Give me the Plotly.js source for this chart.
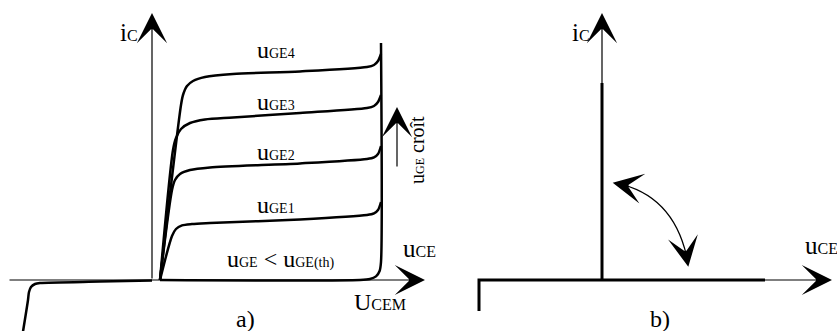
<!DOCTYPE html>
<html>
<head>
<meta charset="utf-8">
<script src="https://cdn.plot.ly/plotly-3.0.1.min.js"></script>
<style>html,body{margin:0;padding:0;background:#fff;}#chart{width:837px;height:331px;}</style>
</head>
<body>
<div id="chart"></div>
<script>
// ---- Panel a) : IGBT output characteristics (schematic units) ----
const uge4X = [0.4, 1.45, 1.55, 1.75, 2.05, 2.65, 4.05, 7.4, 10.75, 11.1, 11.3, 11.45];
const uge4Y = [0, 8.75, 9.25, 9.7, 9.95, 10.15, 10.3, 10.43, 10.65, 10.75, 10.95, 11.3];
const uge3X = [0.4, 1.05, 1.2, 1.45, 1.9, 2.65, 4.05, 7.4, 10.75, 11.1, 11.3, 11.45];
const uge3Y = [0, 6.5, 7.1, 7.55, 7.85, 8.03, 8.13, 8.35, 8.6, 8.7, 8.9, 9.25];
const uge2X = [0.4, 1.0, 1.15, 1.4, 1.9, 2.9, 7.4, 10.75, 11.1, 11.3, 11.45];
const uge2Y = [0, 4.5, 5.0, 5.3, 5.5, 5.63, 5.83, 6.05, 6.13, 6.3, 6.7];
const uge1X = [0.4, 1.0, 1.2, 1.5, 2.0, 2.9, 7.4, 10.75, 11.1, 11.3, 11.45];
const uge1Y = [0, 2.2, 2.55, 2.73, 2.8, 2.85, 3.03, 3.25, 3.33, 3.5, 3.9];
const offX = [0.4, 10.4, 10.9, 11.2, 11.38, 11.45, 11.45];
const offY = [0, 0, 0.05, 0.18, 0.45, 0.9, 11.85];
const revX = [0, -2.6, -5.6, -5.85, -6.05, -6.15, -6.2, -6.47];
const revY = [-0.03, -0.08, -0.15, -0.2, -0.35, -0.6, -1.0, -2.7];

// ---- Panel b) : ideal switch ----
const swX = [-6.15, -6.15, 8.15, null, 0, 0];
const swY = [-1.55, 0, 0, null, 0, 9.85];

// ---- Labels ----
const curveLabels = ['GE4', 'GE3', 'GE2', 'GE1'];
const curveLabelY = [11.5, 8.9, 6.4, 3.75];

const SERIF = '"Liberation Serif", "Times New Roman", Times, serif';
const black = '#000';

function line(x, y, xa, w, shape) {
  return {x: x, y: y, xaxis: xa, yaxis: 'y', type: 'scatter', mode: 'lines',
          line: {color: black, width: w, shape: shape || 'spline', smoothing: 0.8},
          hoverinfo: 'skip', connectgaps: false};
}

const traces = [
  line(uge4X, uge4Y, 'x', 2.5),
  line(uge3X, uge3Y, 'x', 2.5),
  line(uge2X, uge2Y, 'x', 2.5),
  line(uge1X, uge1Y, 'x', 2.5),
  line(offX, offY, 'x', 2.5),
  line(revX, revY, 'x', 2.5),
  line(swX, swY, 'x2', 3, 'linear')
];

const HEAD = {arrowhead: 3, arrowsize: 4.2, arrowwidth: 1.2, arrowcolor: black};
function arrow(xref, x, y, ax, ay) {
  return Object.assign({xref: xref, yref: 'y', x: x, y: y, ax: ax, ay: ay,
    axref: xref, ayref: 'y', text: '', showarrow: true}, HEAD);
}
function label(xref, x, y, html, size, extra) {
  return Object.assign({xref: xref, yref: 'y', x: x, y: y, text: html, showarrow: false,
    xanchor: 'center', yanchor: 'middle', font: {family: SERIF, size: size, color: black}}, extra || {});
}
function sub(s, size) { return '<span style="font-size:' + size + 'px">' + s + '</span>'; }

const annotations = [
  // panel a axes
  arrow('x', 13.65, 0, -7.2, 0),
  arrow('x', 0, 13.35, 0, 0),
  // panel b axes
  arrow('x2', 11.5, 0, 8.0, 0),
  arrow('x2', 0, 13.35, 0, 9.0),
  // uGE croît arrow
  arrow('x', 12.25, 8.65, 12.25, 5.6),
  // curved double arrow heads (pixel offsets along tangent)
  Object.assign({xref: 'x2', yref: 'y', x: 0.535, y: 4.865, ax: 15, ay: 3, text: '', showarrow: true}, HEAD),
  Object.assign({xref: 'x2', yref: 'y', x: 4.315, y: 0.665, ax: -2.7, ay: -15, text: '', showarrow: true}, HEAD),
  // labels panel a
  label('x', -1.15, 12.4, 'i' + sub('C', 16), 25),
  label('x', 6.4, 1.05, 'u' + sub('GE', 14) + ' &lt; u' + sub('GE(th)', 14), 24),
  label('x', 11.4, -1.1, 'U' + sub('CEM', 16), 24),
  label('x', 13.35, 1.6, 'u' + sub('CE', 16), 25),
  label('x', 4.65, -1.95, 'a)', 24),
  label('x', 13.25, 6.5, 'u' + sub('GE', 12) + ' croît', 20, {textangle: -90}),
  // labels panel b
  label('x2', -1.05, 12.4, 'i' + sub('C', 16), 25),
  label('x2', 10.95, 1.75, 'u' + sub('CE', 16), 25),
  label('x2', 2.9, -1.95, 'b)', 24)
];
curveLabels.forEach(function (s, i) {
  annotations.push(label('x', 6.2, curveLabelY[i], 'u' + sub(s, 14), 24));
});

const hidden = {visible: false, showgrid: false, zeroline: false, fixedrange: true};
const layout = {
  width: 837, height: 331,
  margin: {l: 0, r: 0, t: 0, b: 0},
  paper_bgcolor: '#fff', plot_bgcolor: 'rgba(0,0,0,0)',
  font: {family: SERIF, color: black},
  showlegend: false, hovermode: false,
  xaxis: Object.assign({domain: [0, 437 / 837], range: [-7.6, 14.25], anchor: 'y'}, hidden),
  xaxis2: Object.assign({domain: [420 / 837, 1], range: [-9.1, 11.75], anchor: 'y'}, hidden),
  yaxis: Object.assign({domain: [0, 1], range: [-2.55, 14.0]}, hidden),
  shapes: [{type: 'path', xref: 'x2', yref: 'y',
            path: 'M0.7,4.84 Q3.675,4.235 4.3,0.85',
            line: {color: black, width: 1.3}}],
  annotations: annotations
};

Plotly.newPlot('chart', traces, layout, {staticPlot: true, displayModeBar: false});
</script>
</body>
</html>
